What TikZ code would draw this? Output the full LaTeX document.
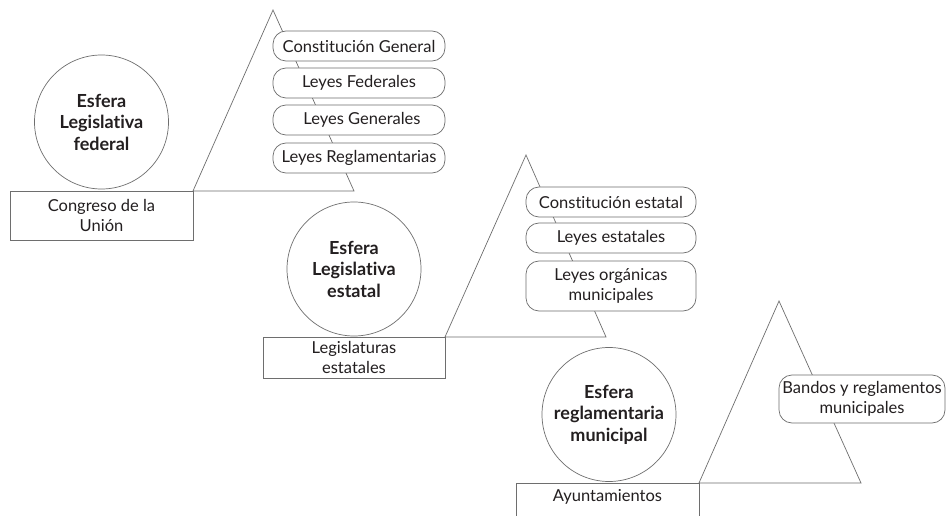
\documentclass[tikz,border=0pt]{standalone}
\usepackage{fontspec}
\setmainfont[Ligatures={NoCommon,NoRare,NoContextual}]{Lato}
\definecolor{linec}{RGB}{110,110,110}
\definecolor{txt}{RGB}{35,31,32}
\begin{document}
\begin{tikzpicture}[x=1pt,y=-1pt,
  every node/.style={inner sep=0pt, outer sep=0pt, text=txt, font=\fontsize{16.5}{20.5}\selectfont, align=center},
  ln/.style={draw=linec, line width=0.7pt},
  esfera/.style={ln, circle, minimum size=134pt, font=\bfseries\fontsize{18}{21.5}\selectfont},
  organo/.style={ln, rectangle, minimum width=183pt},
  norma/.style={ln, fill=white, rounded corners=13pt, minimum height=30pt}
]
\useasboundingbox (0,0) rectangle (946,516);
\clip (0,0) rectangle (946,516);
\fill[white] (0,0) rectangle (946,516);

% ---------- federal ----------
\coordinate (t1a) at (273,10);
\coordinate (t1l) at (193,191);
\coordinate (t1r) at (354,191);
\draw[ln] (t1l) -- (t1a) -- (t1r) -- cycle;
\node[esfera] (c1) at (101.5,122) {Esfera\\Legislativa\\federal};
\node[organo, minimum height=49pt] (r1) at (101.5,215.5) {Congreso de la\\Unión};
\node[norma, minimum width=172pt] (f1) at (359,46) {Constitución General};
\node[norma, minimum width=172pt] (f2) at (359,83) {Leyes Federales};
\node[norma, minimum width=172pt] (f3) at (359,120) {\hspace*{6pt}Leyes Generales};
\node[norma, minimum width=172pt] (f4) at (359,158) {Leyes Reglamentarias};

% ---------- estatal ----------
\coordinate (t2a) at (526,155);
\coordinate (t2l) at (445,337);
\coordinate (t2r) at (606,337);
\draw[ln] (t2l) -- (t2a) -- (t2r) -- cycle;
\node[esfera] (c2) at (354,269) {Esfera\\Legislativa\\estatal};
\node[organo, minimum width=182pt, minimum height=41pt] (r2) at (354,357.5) {Legislaturas\\estatales};
\node[norma, minimum width=170pt] (e1) at (611,202) {Constitución estatal};
\node[norma, minimum width=170pt] (e2) at (611,238) {Leyes estatales};
\node[norma, minimum width=170pt, minimum height=50pt] (e3) at (611,286) {Leyes orgánicas\\municipales};

% ---------- municipal ----------
\coordinate (t3a) at (779,301);
\coordinate (t3l) at (699,483);
\coordinate (t3r) at (861,483);
\draw[ln] (t3l) -- (t3a) -- (t3r) -- cycle;
\node[esfera] (c3) at (609,414.5) {Esfera\\reglamentaria\\municipal};
\node[organo, minimum height=60pt, anchor=north] (r3) at (607.5,483) {};
\node (r3t) at (607.5,497) {Ayuntamientos};
\node[norma, minimum width=166pt, minimum height=48pt] (m1) at (862,399) {Bandos y reglamentos\\municipales};
\end{tikzpicture}
\end{document}
